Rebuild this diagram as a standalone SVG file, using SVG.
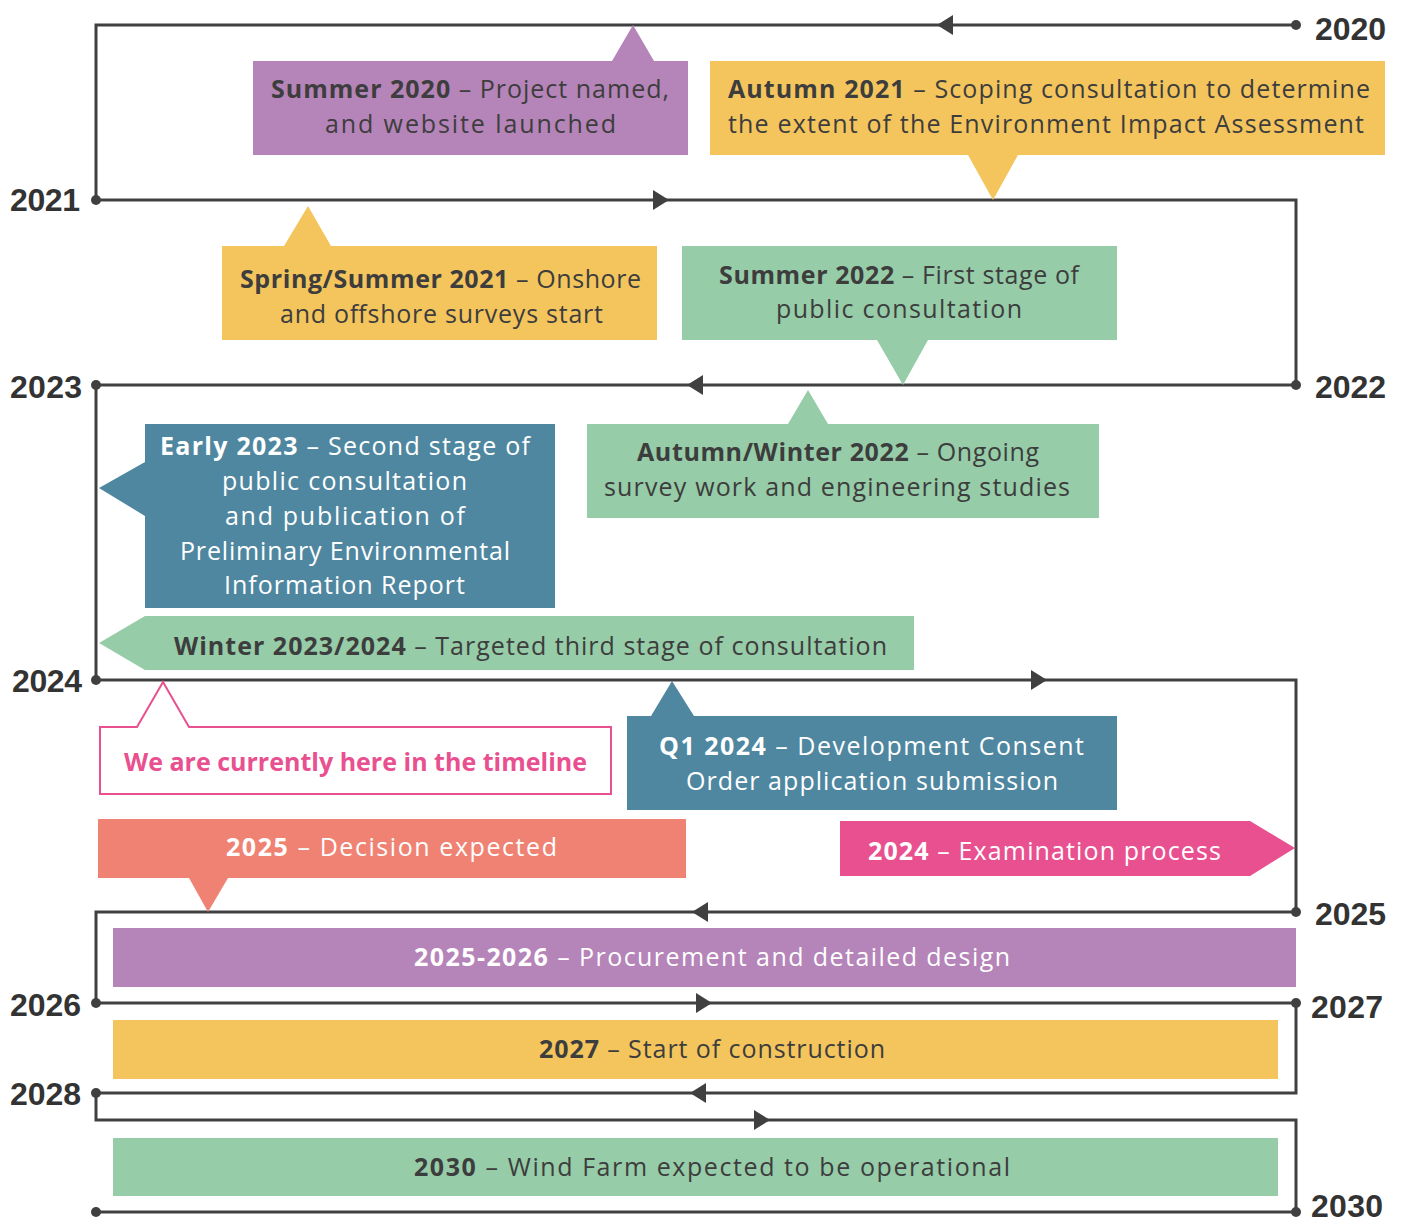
<svg xmlns="http://www.w3.org/2000/svg" xmlns:xlink="http://www.w3.org/1999/xlink" width="1405" height="1225" viewBox="0 0 1405 1225">
<style>
.line{fill:none;stroke:#404040;stroke-width:3;stroke-linejoin:miter}
.dot{fill:#404040}
.arr{fill:#404040}
.t{font-family:"Open Sans","Liberation Sans",sans-serif;font-size:25px;fill:#3d3d3d}
.w{fill:#ffffff}
.b{font-weight:700}
.yr{font-family:"Liberation Sans Narrow","Liberation Sans",sans-serif;font-size:32px;font-weight:700;fill:#333333}
.purple{fill:#B584B9}
.yellow{fill:#F4C55D}
.green{fill:#96CCA8}
.teal{fill:#4F87A0}
.salmon{fill:#F08273}
.pink{fill:#E9508F}
</style>
<defs>
<path id="arrR" d="M-8,-10 L8,0 L-8,10 Z"/>
<path id="arrL" d="M8,-10 L-8,0 L8,10 Z"/>
</defs>
<rect width="1405" height="1225" fill="#ffffff"/>

<g id="connectors">
<path class="line" d="M1296,25 H96 V200 H1296 V385 H96 V680 H1296 V912 H96 V1003 H1296 V1093 H96 V1120 H1296 V1212 H96"/>
<circle class="dot" cx="1296" cy="25" r="5"/>
<circle class="dot" cx="96" cy="200" r="5"/>
<circle class="dot" cx="1296" cy="385" r="5"/>
<circle class="dot" cx="96" cy="385" r="5"/>
<circle class="dot" cx="96" cy="680" r="5"/>
<circle class="dot" cx="1296" cy="912" r="5"/>
<circle class="dot" cx="96" cy="1003" r="5"/>
<circle class="dot" cx="1296" cy="1003" r="5"/>
<circle class="dot" cx="96" cy="1093" r="5"/>
<circle class="dot" cx="96" cy="1212" r="5"/>
<circle class="dot" cx="1296" cy="1212" r="5"/>
<use class="arr" xlink:href="#arrL" href="#arrL" x="945" y="25"/>
<use class="arr" xlink:href="#arrR" href="#arrR" x="661" y="200"/>
<use class="arr" xlink:href="#arrL" href="#arrL" x="695" y="385"/>
<use class="arr" xlink:href="#arrR" href="#arrR" x="1039" y="680"/>
<use class="arr" xlink:href="#arrL" href="#arrL" x="700" y="912"/>
<use class="arr" xlink:href="#arrR" href="#arrR" x="704" y="1003"/>
<use class="arr" xlink:href="#arrL" href="#arrL" x="698" y="1093"/>
<use class="arr" xlink:href="#arrR" href="#arrR" x="762" y="1120"/>
</g>

<g id="years">
<text class="yr" x="1315" y="40" textLength="71">2020</text>
<text class="yr" x="10" y="211" textLength="70">2021</text>
<text class="yr" x="1315" y="398" textLength="71">2022</text>
<text class="yr" x="10" y="398" textLength="72">2023</text>
<text class="yr" x="12" y="692" textLength="70">2024</text>
<text class="yr" x="1315" y="925" textLength="71">2025</text>
<text class="yr" x="10" y="1016" textLength="71">2026</text>
<text class="yr" x="1311" y="1018" textLength="72">2027</text>
<text class="yr" x="10" y="1105" textLength="71">2028</text>
<text class="yr" x="1311" y="1217" textLength="72">2030</text>
</g>

<g id="summer2020">
<path class="purple" d="M253,61 H612 L633,25 L654,61 H688 V155 H253 Z"/>
<text class="t" x="271" y="98" textLength="398"><tspan class="b">Summer 2020</tspan> – Project named,</text>
<text class="t" x="325" y="133" textLength="291">and website launched</text>
</g>

<g id="autumn2021">
<path class="yellow" d="M710,61 H1385 V155 H1018 L993,200 L968,155 H710 Z"/>
<text class="t" x="728" y="98" textLength="642"><tspan class="b">Autumn 2021</tspan> – Scoping consultation to determine</text>
<text class="t" x="728" y="133" textLength="636">the extent of the Environment Impact Assessment</text>
</g>

<g id="spring2021">
<path class="yellow" d="M222,246 H284 L308,206 L331,246 H657 V340 H222 Z"/>
<text class="t" x="240" y="288" textLength="401"><tspan class="b">Spring/Summer 2021</tspan> – Onshore</text>
<text class="t" x="280" y="323" textLength="323">and offshore surveys start</text>
</g>

<g id="summer2022">
<path class="green" d="M682,246 H1117 V340 H928 L903,385 L877,340 H682 Z"/>
<text class="t" x="719" y="284" textLength="360"><tspan class="b">Summer 2022</tspan> – First stage of</text>
<text class="t" x="776" y="318" textLength="246">public consultation</text>
</g>

<g id="autumnwinter2022">
<path class="green" d="M587,424 H788 L808,390 L828,424 H1099 V518 H587 Z"/>
<text class="t" x="637" y="461" textLength="402"><tspan class="b">Autumn/Winter 2022</tspan> – Ongoing</text>
<text class="t" x="604" y="496" textLength="466">survey work and engineering studies</text>
</g>

<g id="early2023">
<path class="teal" d="M145,424 H555 V608 H145 V516 L99,488 L145,462 Z"/>
<text class="t w" x="160" y="455" textLength="370"><tspan class="b">Early 2023</tspan> – Second stage of</text>
<text class="t w" x="222" y="490" textLength="245">public consultation</text>
<text class="t w" x="225" y="525" textLength="240">and publication of</text>
<text class="t w" x="180" y="560" textLength="330">Preliminary Environmental</text>
<text class="t w" x="224" y="594" textLength="241">Information Report</text>
</g>

<g id="winter2023">
<path class="green" d="M145,616 H914 V670 H145 L99,643 Z"/>
<text class="t" x="174" y="655" textLength="713"><tspan class="b">Winter 2023/2024</tspan>  – Targeted third stage of consultation</text>
</g>

<g id="currently">
<path d="M100,727 H137 L163,682 L189,727 H611 V794 H100 Z" fill="#ffffff" stroke="#E9508F" stroke-width="2"/>
<text class="t b" x="124" y="771" textLength="463" style="fill:#E9508F">We are currently here in the timeline</text>
</g>

<g id="q12024">
<path class="teal" d="M627,716 H651 L672,681 L694,716 H1117 V810 H627 Z"/>
<text class="t w" x="659" y="755" textLength="425"><tspan class="b">Q1 2024</tspan> – Development Consent</text>
<text class="t w" x="686" y="790" textLength="372">Order application submission</text>
</g>

<g id="decision2025">
<path class="salmon" d="M98,819 H686 V878 H228 L208,912 L189,878 H98 Z"/>
<text class="t w" x="226" y="856" textLength="331"><tspan class="b">2025</tspan> – Decision expected</text>
</g>

<g id="examination2024">
<path class="pink" d="M840,821 H1250 L1295,848 L1250,876 H840 Z"/>
<text class="t w" x="868" y="860" textLength="353"><tspan class="b">2024</tspan> – Examination process</text>
</g>

<g id="procurement">
<rect class="purple" x="113" y="928" width="1183" height="59"/>
<text class="t w" x="414" y="966" textLength="596"><tspan class="b">2025-2026</tspan> – Procurement and detailed design</text>
</g>

<g id="construction">
<rect class="yellow" x="113" y="1020" width="1165" height="59"/>
<text class="t" x="539" y="1058" textLength="346"><tspan class="b">2027</tspan> – Start of construction</text>
</g>

<g id="operational">
<rect class="green" x="113" y="1138" width="1165" height="58"/>
<text class="t" x="414" y="1176" textLength="596"><tspan class="b">2030</tspan> – Wind Farm expected to be operational</text>
</g>
</svg>
